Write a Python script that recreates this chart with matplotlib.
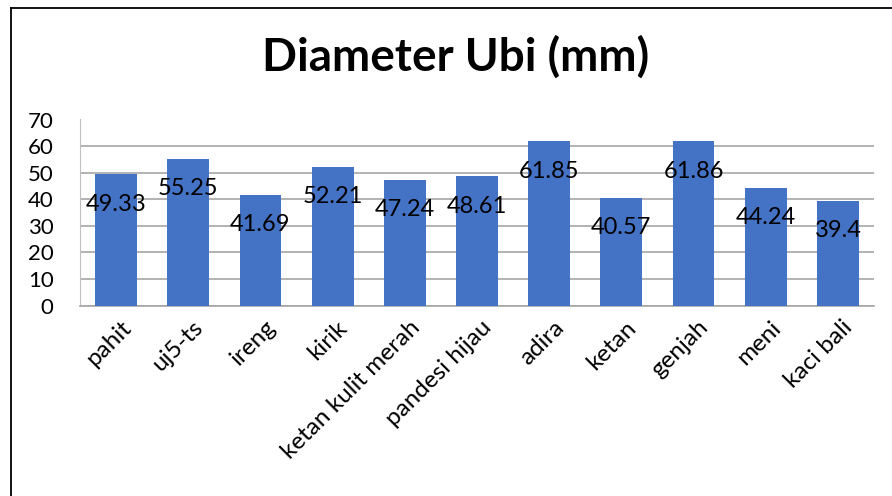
import matplotlib
matplotlib.use("Agg")
import matplotlib.pyplot as plt
from matplotlib.lines import Line2D

varieties = ["pahit", "uj5-ts", "ireng", "kirik", "ketan kulit merah",
             "pandesi hijau", "adira", "ketan", "genjah", "meni", "kaci bali"]
diameter = [49.33, 55.25, 41.69, 52.21, 47.24, 48.61, 61.85, 40.57, 61.86, 44.24, 39.4]
labels = ["49.33", "55.25", "41.69", "52.21", "47.24", "48.61",
          "61.85", "40.57", "61.86", "44.24", "39.4"]

plt.rcParams["font.family"] = ["Lato", "DejaVu Sans"]

fig = plt.figure(figsize=(8.92, 4.96), dpi=100)
ax = fig.add_axes([80 / 892, 1 - 305.5 / 496, 794 / 892, 186 / 496])

x = range(len(varieties))
bars = ax.bar(x, diameter, width=0.58, color="#4472C4", zorder=3)

for b, lab in zip(bars, labels):
    ax.annotate(lab, (b.get_x() + b.get_width() / 2, b.get_height()),
                xytext=(0, -21.6), textcoords="offset points",
                ha="center", va="center", fontsize=17, color="black", zorder=4)

ax.set_xlim(-0.5, len(varieties) - 0.5)
ax.set_ylim(0, 70)
ax.set_yticks(range(0, 71, 10))
ax.yaxis.grid(True, color="#A6A6A6", linewidth=1.2, zorder=0)
ax.set_axisbelow(True)

for s in ["top", "right"]:
    ax.spines[s].set_visible(False)
ax.spines["left"].set_color("#BFBFBF")
ax.spines["bottom"].set_color("#A6A6A6")
ax.spines["bottom"].set_linewidth(1.2)

ax.tick_params(axis="y", length=0, pad=19, labelsize=16)
ax.tick_params(axis="x", length=0, pad=8, labelsize=17.5)
ax.set_xticks(list(x))
ax.set_xticklabels(varieties, rotation=45, ha="right", va="top", rotation_mode="anchor")
for t in ax.get_xticklabels():
    t.set_transform(t.get_transform() + matplotlib.transforms.ScaledTranslation(4 / 100, 0, fig.dpi_scale_trans))

fig.text(456 / 892, 1 - 57 / 496, "Diameter Ubi (mm)", ha="center", va="center",
         fontsize=33, fontweight="bold")

# chart area border (left and top edges visible)
fig.add_artist(Line2D([10.5 / 892, 10.5 / 892], [0, 1 - 7.5 / 496], transform=fig.transFigure,
                      color="black", linewidth=1.3))
fig.add_artist(Line2D([10.5 / 892, 1], [1 - 7.5 / 496, 1 - 7.5 / 496], transform=fig.transFigure,
                      color="black", linewidth=1.3))

fig.savefig("out.png", dpi=100)
